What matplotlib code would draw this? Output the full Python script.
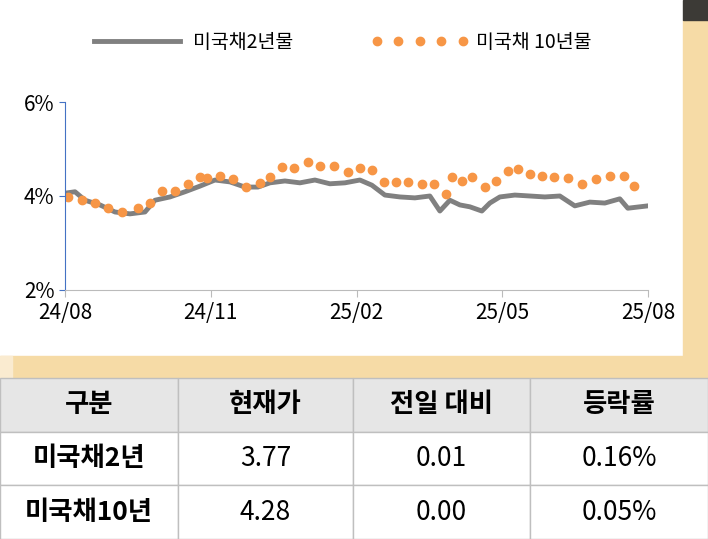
import matplotlib.pyplot as plt
from matplotlib.patches import Rectangle

plt.rcParams['font.family'] = ['Noto Sans CJK JP', 'Noto Sans CJK KR', 'Noto Sans CJK SC', 'DejaVu Sans']

# ── data (x = months since 24/08) ──
tick_labels = ['24/08', '24/11', '25/02', '25/05', '25/08']
tick_pos = [0, 3, 6, 9, 12]

px2 = [65, 75, 85, 100, 115, 130, 145, 155, 170, 185, 200, 215, 230, 245, 258, 270, 285,
       300, 315, 330, 345, 360, 372, 385, 400, 415, 430, 440, 450, 460, 470, 482, 490,
       500, 515, 530, 545, 560, 575, 590, 605, 620, 628, 640, 648]
y2 = [4.06, 4.09, 3.91, 3.81, 3.66, 3.62, 3.66, 3.91, 3.98, 4.09, 4.21, 4.34, 4.30, 4.19,
      4.19, 4.28, 4.32, 4.28, 4.34, 4.26, 4.28, 4.34, 4.23, 4.02, 3.98, 3.96, 4.00, 3.68,
      3.91, 3.81, 3.77, 3.68, 3.85, 3.98, 4.02, 4.00, 3.98, 4.00, 3.79, 3.87, 3.85, 3.94,
      3.74, 3.77, 3.79]
px10 = [68, 82, 95, 108, 122, 138, 150, 162, 175, 188, 200, 207, 220, 233, 246, 260, 270,
        282, 294, 308, 320, 334, 348, 360, 372, 384, 396, 408, 422, 434, 446, 452, 462,
        472, 485, 496, 508, 518, 530, 542, 554, 568, 582, 596, 610, 624, 634]
y10 = [3.98, 3.91, 3.85, 3.74, 3.66, 3.74, 3.85, 4.11, 4.11, 4.26, 4.40, 4.38, 4.43, 4.36,
       4.19, 4.28, 4.40, 4.62, 4.60, 4.72, 4.64, 4.64, 4.51, 4.60, 4.55, 4.30, 4.30, 4.30,
       4.26, 4.26, 4.04, 4.40, 4.32, 4.40, 4.19, 4.32, 4.53, 4.57, 4.47, 4.43, 4.40, 4.38,
       4.26, 4.36, 4.43, 4.43, 4.21]
x2 = [(p - 65) / 48.6 for p in px2]
x10 = [(p - 65) / 48.6 for p in px10]

table_header = ['구분', '현재가', '전일 대비', '등락률']
table_rows = [['미국채2년', '3.77', '0.01', '0.16%'],
              ['미국채10년', '4.28', '0.00', '0.05%']]

W, H = 708, 539
fig = plt.figure(figsize=(W / 100, H / 100), dpi=100)
fig.patch.set_facecolor('white')

# background decorations
tan = '#f6dba6'
fig.patches.append(Rectangle((683 / W, (H - 378) / H), 25 / W, 358 / H, transform=fig.transFigure, color=tan, zorder=0))
fig.patches.append(Rectangle((0, (H - 378) / H), 708 / W, 22 / H, transform=fig.transFigure, color=tan, zorder=0))
fig.patches.append(Rectangle((0, (H - 378) / H), 12 / W, 22 / H, transform=fig.transFigure, color='#faebd0', zorder=0))
fig.patches.append(Rectangle((683 / W, (H - 20) / H), 25 / W, 20 / H, transform=fig.transFigure, color='#3c3a36', zorder=0))

ax = fig.add_axes([65 / W, 1 - 290 / H, 583 / W, 188 / H])
ax.plot(x2, y2, color='#808080', lw=3.5, label='미국채2년물')
ax.plot(x10, y10, ls='none', marker='o', ms=6, color='#f79646', label='미국채 10년물')
ax.set_xlim(0, 12)
ax.set_ylim(2, 6)
ax.set_yticks([2, 4, 6])
ax.set_yticklabels(['2%', '4%', '6%'], fontsize=15)
ax.set_xticks(tick_pos)
ax.set_xticklabels(tick_labels, fontsize=15)
ax.tick_params(axis='x', direction='out', length=5, color='#bbbbbb')
ax.tick_params(axis='y', length=4, color='#4472c4')
for s in ['top', 'right']:
    ax.spines[s].set_visible(False)
ax.spines['left'].set_color('#4472c4')
ax.spines['bottom'].set_color('#bbbbbb')
ax.patch.set_alpha(0)
ax.legend(loc='center', bbox_to_anchor=(340 / W, 1 - 42 / H), bbox_transform=fig.transFigure,
          ncol=2, frameon=False, fontsize=14, columnspacing=4, handlelength=5,
          numpoints=5, handletextpad=0.4)

# table
cols = [0, 178, 353, 530, 708]
rows = [378, 432, 485, 539]
for r in range(3):
    for c in range(4):
        x0, x1 = cols[c], cols[c + 1]
        y0, y1 = rows[r], rows[r + 1]
        fc = '#e6e6e6' if r == 0 else 'white'
        fig.patches.append(Rectangle((x0 / W, 1 - y1 / H), (x1 - x0) / W, (y1 - y0) / H,
                                     transform=fig.transFigure, facecolor=fc, edgecolor='#bfbfbf', lw=1, zorder=1))
        text = table_header[c] if r == 0 else table_rows[r - 1][c]
        bold = r == 0 or c == 0
        fig.text((x0 + x1) / 2 / W, 1 - (y0 + y1) / 2 / H, text, ha='center', va='center',
                 fontsize=19, fontweight='bold' if bold else 'normal', color='black', zorder=2)

fig.savefig('out.png', dpi=100)
